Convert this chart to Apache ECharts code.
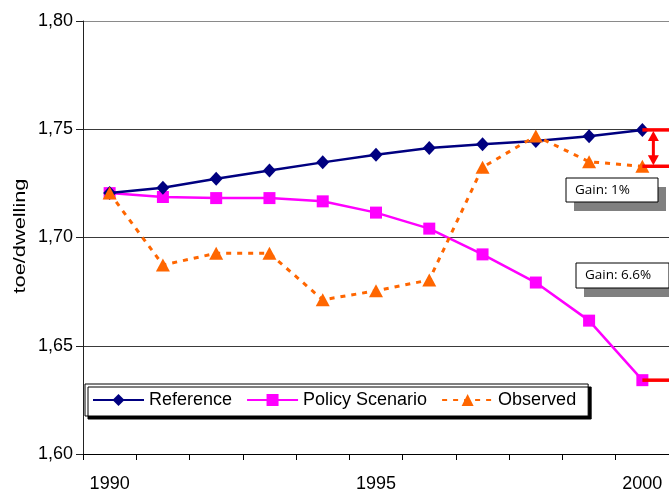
<!DOCTYPE html>
<html>
<head>
<meta charset="utf-8">
<script src="https://cdn.jsdelivr.net/npm/echarts@6/dist/echarts.min.js"></script>
<style>
  html, body { margin: 0; padding: 0; background: #fff; }
  #chart { width: 669px; height: 493px; }
</style>
</head>
<body>
<div id="chart"></div>
<script>
// Household energy consumption per dwelling, 1990-2000
const years = ['1990', '1991', '1992', '1993', '1994', '1995', '1996', '1997', '1998', '1999', '2000'];
const reference = [1.7205, 1.7230, 1.7271, 1.7309, 1.7347, 1.7382, 1.7413, 1.7431, 1.7446, 1.7468, 1.7497];
const policyScenario = [1.7205, 1.7187, 1.7182, 1.7182, 1.7167, 1.7115, 1.7041, 1.6922, 1.6792, 1.6616, 1.6341];
const observed = [1.7205, 1.6873, 1.6927, 1.6927, 1.6712, 1.6754, 1.6804, 1.7324, 1.7469, 1.7350, 1.7329];
const yTicks = { min: 1.60, max: 1.80, step: 0.05 };
const yTitle = 'toe/dwelling';
const gainLabels = ['Gain: 1%', 'Gain: 6.6%'];

const FONT = '"Liberation Sans", Arial, sans-serif';
const chart = echarts.init(document.getElementById('chart'), null, { renderer: 'canvas' });

chart.setOption({
  backgroundColor: '#ffffff',
  animation: false,
  grid: { left: 83, right: -4, top: 21, bottom: 36, containLabel: false },
  legend: {
    left: 85, top: 384,
    padding: [7, 12, 7, 7],
    itemGap: 14,
    itemWidth: 51,
    itemHeight: 15,
    backgroundColor: '#ffffff',
    borderColor: '#000000',
    borderWidth: 1,
    shadowColor: '#000000',
    shadowBlur: 0,
    shadowOffsetX: 3,
    shadowOffsetY: 3,
    textStyle: { fontFamily: FONT, fontSize: 18, color: '#000' },
    data: ['Reference', 'Policy Scenario', 'Observed']
  },
  xAxis: {
    type: 'category',
    data: years,
    boundaryGap: true,
    axisLine: { lineStyle: { color: '#000', width: 1 } },
    axisTick: { show: true, interval: 0, length: 6, lineStyle: { color: '#000' } },
    axisLabel: { interval: 4, margin: 21, fontFamily: FONT, fontSize: 18, color: '#000' },
    splitLine: { show: false }
  },
  yAxis: {
    type: 'value',
    min: yTicks.min, max: yTicks.max, interval: yTicks.step,
    axisLine: { show: true, lineStyle: { color: '#222', width: 1 } },
    axisTick: { show: true, inside: false, length: 7, lineStyle: { color: '#222' } },
    axisLabel: {
      margin: 10, fontFamily: FONT, fontSize: 18, color: '#000',
      formatter: v => v.toFixed(2).replace('.', ',')
    },
    splitLine: { show: true, lineStyle: { color: ['#000', '#3a3a3a', '#3a3a3a', '#3a3a3a', '#8a8a8a'], width: 1 } }
  },
  series: [
    {
      name: 'Reference', type: 'line', data: reference,
      symbol: 'diamond', symbolSize: [13, 14],
      lineStyle: { color: '#000080', width: 2.5 },
      itemStyle: { color: '#000080' },
      z: 3
    },
    {
      name: 'Policy Scenario', type: 'line', data: policyScenario,
      symbol: 'rect', symbolSize: 12,
      lineStyle: { color: '#ff00ff', width: 2.5 },
      itemStyle: { color: '#ff00ff' },
      z: 2
    },
    {
      name: 'Observed', type: 'line', data: observed,
      symbol: 'triangle', symbolSize: [14, 13],
      lineStyle: { color: '#ff6600', width: 3, type: [5, 6] },
      itemStyle: { color: '#ff6600' },
      z: 4
    }
  ]
});

// Gap markers at the last year, placed through the axis scales
const last = years.length - 1;
const px = (v) => chart.convertToPixel({ xAxisIndex: 0, yAxisIndex: 0 }, [years[last], v]);
const pRef = px(reference[last]);
const pObs = px(observed[last]);
const pPol = px(policyScenario[last]);
const RED = '#ff0000';
const edge = 672;
const ax = pRef[0] + 11;
const head = 10, headW = 11;

function gainBox(x, y, w, h, label) {
  return [
    { type: 'rect', shape: { x: x + 8, y: y + 9, width: w, height: h }, style: { fill: '#808080' }, z: 20 },
    { type: 'rect', shape: { x: x, y: y, width: w, height: h }, style: { fill: '#fff', stroke: '#000', lineWidth: 1 }, z: 21 },
    { type: 'text', x: x + 9, y: y + h / 2, style: { text: label, fontFamily: '"Open Sans", sans-serif', fontSize: 13.5, fill: '#000', verticalAlign: 'middle' }, z: 22 }
  ];
}

chart.setOption({
  graphic: [
    // vertical axis title, drawn slightly stretched along its length
    { type: 'text', x: 20, y: 236, rotation: Math.PI / 2, scaleX: 1.28, scaleY: 1,
      style: { text: yTitle, fontFamily: FONT, fontSize: 17, fill: '#000', align: 'center', verticalAlign: 'middle' }, z: 5 },
    { type: 'line', shape: { x1: pRef[0], y1: pRef[1], x2: edge, y2: pRef[1] }, style: { stroke: RED, lineWidth: 3.5 }, z: 10 },
    { type: 'line', shape: { x1: pObs[0], y1: pObs[1], x2: edge, y2: pObs[1] }, style: { stroke: RED, lineWidth: 3.5 }, z: 10 },
    { type: 'line', shape: { x1: pPol[0], y1: pPol[1], x2: edge, y2: pPol[1] }, style: { stroke: RED, lineWidth: 3.5 }, z: 10 },
    { type: 'line', shape: { x1: ax, y1: pRef[1] + head, x2: ax, y2: pObs[1] - head }, style: { stroke: RED, lineWidth: 3 }, z: 10 },
    { type: 'polygon', shape: { points: [[ax, pRef[1] + 1], [ax - headW / 2, pRef[1] + head + 1], [ax + headW / 2, pRef[1] + head + 1]] }, style: { fill: RED }, z: 10 },
    { type: 'polygon', shape: { points: [[ax, pObs[1] - 1], [ax - headW / 2, pObs[1] - head - 1], [ax + headW / 2, pObs[1] - head - 1]] }, style: { fill: RED }, z: 10 },
    ...gainBox(566, 178, 92, 24, gainLabels[0]),
    ...gainBox(576, 263, 93, 25, gainLabels[1])
  ]
});
</script>
</body>
</html>
